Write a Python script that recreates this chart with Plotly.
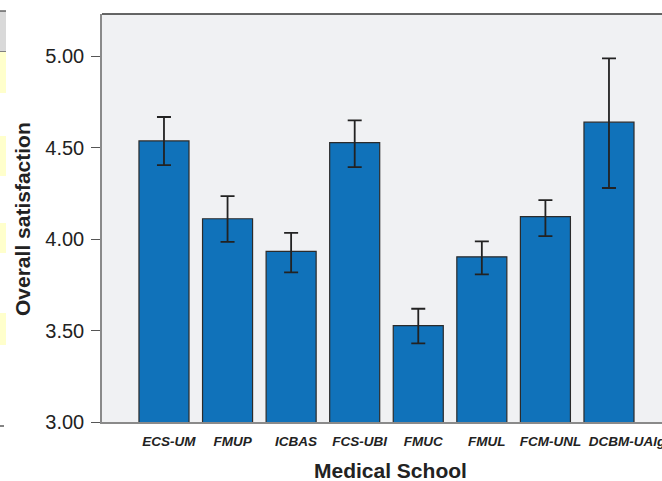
import plotly.graph_objects as go

# Overall satisfaction by medical school (mean with error bars)
schools = ["ECS-UM", "FMUP", "ICBAS", "FCS-UBI", "FMUC", "FMUL", "FCM-UNL", "DCBM-UAlg"]
mean_score = [4.536, 4.111, 3.933, 4.527, 3.527, 3.903, 4.122, 4.639]
err_upper = [4.667, 4.235, 4.034, 4.649, 3.619, 3.987, 4.213, 4.987]
err_lower = [4.404, 3.985, 3.818, 4.393, 3.430, 3.807, 4.016, 4.279]
y_ticks = [3.0, 3.5, 4.0, 4.5, 5.0]
y_tick_text = ["3.00", "3.50", "4.00", "4.50", "5.00"]

plus = [u - m for u, m in zip(err_upper, mean_score)]
minus = [m - l for m, l in zip(mean_score, err_lower)]

W, H = 662, 481
L, T, R, B = 102, 14, 0, 59
pw, ph = W - L - R, H - T - B


def px_x(x):
    return (x - L) / pw


def px_y(y):
    return (H - B - y) / ph


# category labels: bold italic; the last one is nudged right so it clears its neighbour
tick_labels = [f"<b><i>{s}</i></b>" for s in schools]
tick_labels[-1] = "&nbsp;" * 7 + tick_labels[-1]

fig = go.Figure()
fig.add_trace(go.Bar(
    x=list(range(len(schools))),
    y=mean_score,
    base=0,
    marker=dict(color="#1072BA", line=dict(color="#2b2b2b", width=1.2)),
    error_y=dict(type="data", symmetric=False, array=plus, arrayminus=minus,
                 color="#222222", thickness=1.8, width=7),
    hoverinfo="skip",
))

shapes = [
    # top frame line
    dict(type="line", xref="paper", yref="paper", x0=0, x1=1, y0=1, y1=1,
         line=dict(color="#333333", width=1.5)),
    # side panel fragments at the left margin
    dict(type="rect", xref="paper", yref="paper", x0=px_x(-2), x1=px_x(6),
         y0=px_y(52), y1=px_y(11), fillcolor="#D9D9D9", line=dict(width=0)),
    dict(type="line", xref="paper", yref="paper", x0=px_x(-2), x1=px_x(6),
         y0=px_y(11), y1=px_y(11), line=dict(color="#444444", width=1.2)),
    dict(type="line", xref="paper", yref="paper", x0=px_x(-2), x1=px_x(6),
         y0=px_y(52), y1=px_y(52), line=dict(color="#444444", width=1.2)),
]
for y0, y1 in [(52, 93), (136, 176), (223, 253), (313, 345)]:
    shapes.append(dict(type="rect", xref="paper", yref="paper", x0=px_x(-2), x1=px_x(6),
                       y0=px_y(y1), y1=px_y(y0), fillcolor="#FFFFCC", line=dict(width=0)))
shapes.append(dict(type="line", xref="paper", yref="paper", x0=px_x(-2), x1=px_x(4),
                   y0=px_y(426), y1=px_y(426), line=dict(color="#333333", width=1.2)))

fig.update_layout(
    width=W, height=H,
    margin=dict(l=L, r=R, t=T, b=B, autoexpand=False),
    paper_bgcolor="white",
    plot_bgcolor="#F0F1F3",
    showlegend=False,
    bargap=0.213,
    font=dict(family="Liberation Sans, Arial, sans-serif", color="#222222"),
    shapes=shapes,
    annotations=[
        dict(text="<b>Overall satisfaction</b>", xref="paper", yref="paper",
             x=px_x(22), y=px_y(219), textangle=-90, showarrow=False,
             font=dict(size=21, color="#222222"), xanchor="center", yanchor="middle"),
        dict(text="<b>Medical School</b>", xref="paper", yref="paper",
             x=px_x(390), y=px_y(470), showarrow=False,
             font=dict(size=21, color="#222222"), xanchor="center", yanchor="middle"),
    ],
)

fig.update_xaxes(
    range=[-0.975, 7.834],
    tickmode="array",
    tickvals=list(range(len(schools))),
    ticktext=tick_labels,
    tickfont=dict(size=13.5, color="#222222"),
    tickangle=0,
    ticks="", showgrid=False, zeroline=False,
    showline=True, linecolor="#8a8a8a", linewidth=1.5,
    ticklabelstandoff=6,
    ticklabelshift=5,
    ticklabeloverflow="allow",
    automargin=False,
)
fig.update_yaxes(
    range=[3.0, 5.23],
    tickmode="array",
    tickvals=y_ticks,
    ticktext=y_tick_text,
    tickfont=dict(size=20, color="#222222"),
    ticks="outside", ticklen=9, tickcolor="#555555", tickwidth=1,
    showgrid=False, zeroline=False,
    showline=True, linecolor="#8a8a8a", linewidth=1.5,
    ticklabelstandoff=3,
    automargin=False,
)

# the last label runs past the right edge; keep the page itself from scrolling
fig.write_html(
    "out.html",
    post_script=(
        "document.documentElement.style.overflow='hidden';"
        "document.body.style.overflow='hidden';"
        "document.body.style.margin='0';"
    ),
)
